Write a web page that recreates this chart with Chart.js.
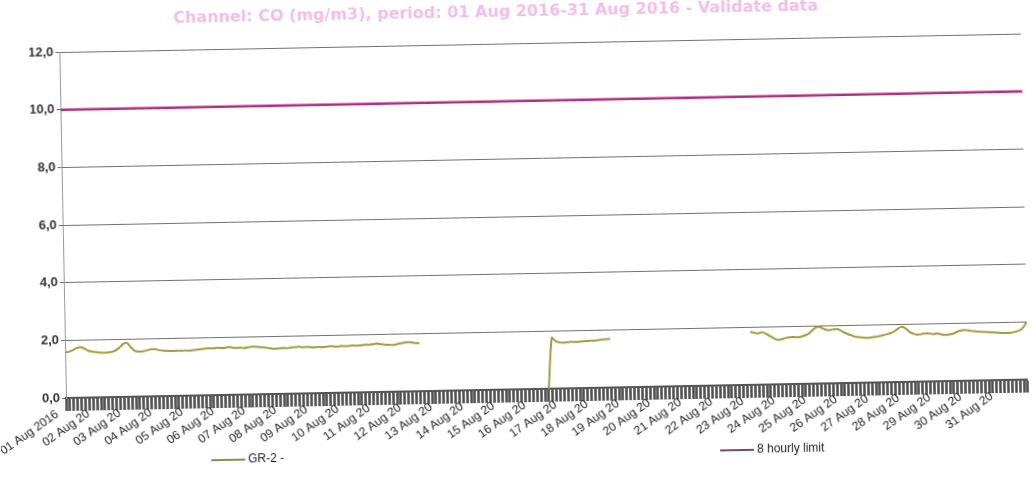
<!DOCTYPE html>
<html>
<head>
<meta charset="utf-8">
<script src="https://cdn.jsdelivr.net/npm/chart.js@4.4.1/dist/chart.umd.min.js"></script>
<style>
  html, body { margin: 0; padding: 0; background: #fff; overflow: hidden; }
  /* the scanned page is slightly tilted */
  #wrap { position: absolute; left: 0; top: 0; width: 1032px; height: 495px;
          transform: rotate(-1.1deg); transform-origin: 66px 398px; }
</style>
</head>
<body>
<div id="wrap"><canvas id="coChart"></canvas></div>
<script>
const TITLE = 'Channel: CO (mg/m3), period: 01 Aug 2016-31 Aug 2016 - Validate data';

const DAYS = ['01','02','03','04','05','06','07','08','09','10','11','12','13','14','15','16',
              '17','18','19','20','21','22','23','24','25','26','27','28','29','30','31'];
const HOURS = ['00:00','03:00','06:00','09:00','12:00','15:00','18:00','21:00'];

const DAY_TICKS = ['01 Aug 2016','02 Aug 20','03 Aug 20','04 Aug 20','05 Aug 20','06 Aug 20','07 Aug 20',
                   '08 Aug 20','09 Aug 20','10 Aug 20','11 Aug 20','12 Aug 20','13 Aug 20','14 Aug 20',
                   '15 Aug 20','16 Aug 20','17 Aug 20','18 Aug 20','19 Aug 20','20 Aug 20','21 Aug 20',
                   '22 Aug 20','23 Aug 20','24 Aug 20','25 Aug 20','26 Aug 20','27 Aug 20','28 Aug 20',
                   '29 Aug 20','30 Aug 20','31 Aug 20'];

// GR-2, 3-hourly, 01 Aug 00:00 - 12 Aug 09:00
const GR2_A = [1.58,1.60,1.66,1.73,1.75,1.70,1.62,1.59,
               1.57,1.55,1.54,1.55,1.57,1.62,1.72,1.84,
               1.86,1.70,1.58,1.56,1.57,1.60,1.63,1.64,
               1.60,1.58,1.57,1.56,1.56,1.57,1.56,1.57,
               1.56,1.58,1.59,1.60,1.62,1.63,1.62,1.64,
               1.63,1.64,1.66,1.64,1.62,1.63,1.61,1.64,
               1.66,1.65,1.64,1.62,1.60,1.58,1.57,1.58,
               1.59,1.58,1.60,1.61,1.62,1.60,1.61,1.60,
               1.59,1.60,1.59,1.60,1.62,1.61,1.60,1.62,
               1.61,1.62,1.63,1.62,1.63,1.65,1.64,1.66,
               1.68,1.66,1.64,1.63,1.62,1.64,1.67,1.69,
               1.71,1.70,1.67,1.66];
// 16 Aug 12:00 - 18 Aug 12:00
const GR2_B_START = 124;
const GR2_B = [0,1.76,1.64,1.60,1.59,1.60,1.61,1.60,1.61,1.62,1.63,1.64,1.64,1.66,1.67,1.68,1.69];
// 23 Aug 00:00 - 31 Aug 21:00
const GR2_C_START = 176;
const GR2_C = [1.84,1.80,1.78,1.82,1.76,1.68,1.60,1.54,
               1.56,1.60,1.62,1.63,1.62,1.64,1.68,1.74,
               1.86,1.96,1.95,1.88,1.84,1.86,1.88,1.84,
               1.76,1.70,1.65,1.60,1.58,1.56,1.55,1.56,
               1.58,1.60,1.63,1.66,1.70,1.76,1.86,1.92,
               1.84,1.72,1.66,1.63,1.65,1.67,1.66,1.64,
               1.66,1.62,1.60,1.61,1.64,1.70,1.74,1.76,
               1.74,1.72,1.70,1.69,1.68,1.67,1.66,1.65,
               1.64,1.63,1.63,1.64,1.66,1.70,1.80,2.00];

const LIMIT_8H = 10;

const labels = DAYS.flatMap(d => HOURS.map(h => d + ' Aug 2016 ' + h));
const gr2 = labels.map(() => null);
GR2_A.forEach((v, i) => gr2[i] = v);
GR2_B.forEach((v, i) => gr2[GR2_B_START + i] = v);
GR2_C.forEach((v, i) => gr2[GR2_C_START + i] = v);
const limit = labels.map(() => LIMIT_8H);

// title + legend as they sit on the page
const LEGEND_POS = [[210, 463], [719, 463]];
const decor = {
  id: 'decor',
  afterDraw(chart) {
    const ctx = chart.ctx;
    ctx.save();
    ctx.font = 'bold 16px "DejaVu Sans"';
    ctx.fillStyle = '#f2bde6';
    ctx.textAlign = 'center';
    ctx.textBaseline = 'middle';
    ctx.fillText(TITLE, 503, 21);

    ctx.font = '12px "Liberation Sans"';
    ctx.textAlign = 'left';
    chart.data.datasets.forEach((ds, k) => {
      const [x, y] = LEGEND_POS[k];
      ctx.strokeStyle = ds.legendColor;
      ctx.lineWidth = 2;
      ctx.beginPath();
      ctx.moveTo(x, y);
      ctx.lineTo(x + 34, y);
      ctx.stroke();
      ctx.fillStyle = '#222';
      ctx.fillText(ds.label, x + 37, y);
    });
    ctx.restore();
  }
};

new Chart(document.getElementById('coChart').getContext('2d'), {
  type: 'line',
  data: {
    labels: labels,
    datasets: [{
      label: 'GR-2 -',
      data: gr2,
      borderColor: '#9e9c3e',
      legendColor: '#8c8c52',
      borderWidth: 2,
      pointRadius: 0,
      tension: 0.25,
      spanGaps: false
    }, {
      label: '8 hourly limit',
      data: limit,
      borderColor: '#b42e7c',
      legendColor: '#7a4860',
      borderWidth: 2.5,
      pointRadius: 0
    }]
  },
  options: {
    responsive: true,
    maintainAspectRatio: false,
    animation: false,
    layout: { padding: { top: 52, left: 36, right: 4, bottom: 30 } },
    plugins: { legend: { display: false }, title: { display: false }, tooltip: { enabled: false } },
    scales: {
      x: {
        afterFit: s => { s.height = 67; },
        grid: { drawOnChartArea: false, drawTicks: true, tickLength: 13, tickColor: 'rgba(50,50,50,0.85)', tickWidth: 2.6 },
        border: { color: '#555', width: 2 },
        ticks: {
          autoSkip: false,
          minRotation: 34,
          maxRotation: 34,
          padding: -4,
          labelOffset: -9,
          color: '#222',
          font: { family: 'Liberation Sans', size: 12 },
          callback: (v, i) => i % 8 === 0 ? DAY_TICKS[i / 8] : ''
        }
      },
      y: {
        min: 0,
        max: 12,
        afterFit: s => { s.width = 30; },
        grid: { color: '#707070', lineWidth: 1, tickLength: 4 },
        border: { color: '#999', width: 1 },
        ticks: {
          stepSize: 2,
          padding: 2,
          color: '#333',
          font: { family: 'Liberation Sans', size: 13, weight: 'bold' },
          callback: v => v.toFixed(1).replace('.', ',')
        }
      }
    }
  },
  plugins: [decor]
});
</script>
</body>
</html>
